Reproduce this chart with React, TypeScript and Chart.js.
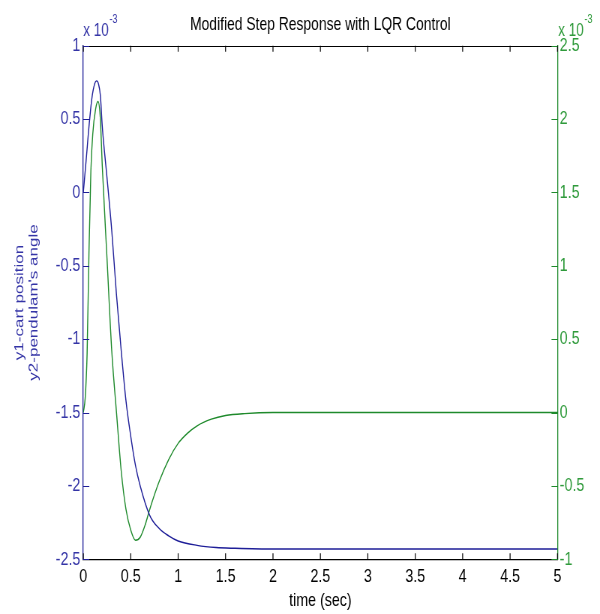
import { useEffect, useRef } from "react";
import { Chart, registerables } from "chart.js";

Chart.register(...registerables);

// ---- data (values in units of 1e-3) ----
const chartTitle = "Modified Step Response with LQR Control";
const xTitle = "time (sec)";
const yTitleLines = ["y1-cart position", "y2-pendulam's angle"];
const multiplierText = "x 10";
const multiplierExp = "-3";

const timeBlue = [0, 0.03, 0.06, 0.09, 0.12, 0.14, 0.16, 0.18, 0.2, 0.25, 0.3, 0.35, 0.4, 0.45, 0.5, 0.55, 0.6, 0.7, 0.8, 0.9, 1.0, 1.2, 1.4, 1.6, 2.0, 5.0];
const y1Cart = [0, 0.22, 0.45, 0.64, 0.74, 0.76, 0.74, 0.66, 0.45, 0.1, -0.26, -0.7, -1.08, -1.42, -1.66, -1.86, -2.0, -2.2, -2.29, -2.34, -2.375, -2.405, -2.42, -2.425, -2.43, -2.43];

const timeGreen = [0, 0.02, 0.04, 0.06, 0.08, 0.1, 0.13, 0.155, 0.18, 0.2, 0.25, 0.3, 0.35, 0.4, 0.45, 0.5, 0.55, 0.6, 0.65, 0.7, 0.8, 0.9, 1.0, 1.1, 1.2, 1.35, 1.5, 1.7, 2.0, 5.0];
const y2Angle = [0, 0.1, 0.4, 1.1, 1.65, 1.9, 2.07, 2.12, 2.0, 1.68, 1.05, 0.42, 0.0, -0.4, -0.66, -0.8, -0.87, -0.85, -0.77, -0.66, -0.47, -0.32, -0.21, -0.14, -0.09, -0.045, -0.02, -0.007, 0, 0];

const xRange = [0, 5];
const xStep = 0.5;
const yLeftRange = [-2.5, 1];
const yRightRange = [-1, 2.5];
const yStep = 0.5;

// ---- styles ----
// The figure is horizontally condensed (like the reference image): the chart is
// drawn on a wider canvas and squeezed with a CSS scaleX.
const SX = 0.75;
const CW = 800; // canvas width before squeeze (800 * 0.75 = 600)
const CH = 614;
const FAMILY = "'Liberation Sans', Arial, sans-serif";
const BLUE_LINE = "#1e1e98";
const BLUE_TEXT = "#3434a6";
const GREEN_LINE = "#1f8a2c";
const GREEN_TEXT = "#2f9a3b";
const TICK_V = 6; // vertical tick length (px)
const TICK_H = 6 / SX; // horizontal tick length in canvas px

const fmt = (v: any) => String(Number(v));

const decor = {
  id: "decor",
  afterDraw(chart: any) {
    const { ctx, chartArea: a, scales } = chart;
    const xs = scales.x, yl = scales.y, yr = scales.y2;
    ctx.save();
    ctx.lineWidth = 1.2;
    // top border
    ctx.strokeStyle = "#000";
    ctx.beginPath();
    ctx.moveTo(a.left, Math.round(a.top) + 0.5);
    ctx.lineTo(a.right, Math.round(a.top) + 0.5);
    ctx.stroke();
    // x ticks (bottom and top, inward)
    ctx.beginPath();
    xs.ticks.forEach((t: any) => {
      const px = xs.getPixelForValue(t.value);
      ctx.moveTo(px, a.bottom);
      ctx.lineTo(px, a.bottom - TICK_V);
      ctx.moveTo(px, a.top);
      ctx.lineTo(px, a.top + TICK_V);
    });
    ctx.stroke();
    ctx.lineWidth = 1;
    // left ticks
    ctx.strokeStyle = BLUE_LINE;
    ctx.beginPath();
    yl.ticks.forEach((t: any) => {
      const py = Math.round(yl.getPixelForValue(t.value)) + 0.5;
      ctx.moveTo(a.left, py);
      ctx.lineTo(a.left + TICK_H, py);
    });
    ctx.stroke();
    // right ticks
    ctx.strokeStyle = GREEN_LINE;
    ctx.beginPath();
    yr.ticks.forEach((t: any) => {
      const py = Math.round(yr.getPixelForValue(t.value)) + 0.5;
      ctx.moveTo(a.right, py);
      ctx.lineTo(a.right - TICK_H, py);
    });
    ctx.stroke();
    // multipliers
    const drawMult = (x0: number, color: string) => {
      ctx.fillStyle = color;
      ctx.textBaseline = "alphabetic";
      ctx.textAlign = "left";
      ctx.font = `18px ${FAMILY}`;
      ctx.fillText(multiplierText, x0, 36);
      const w = ctx.measureText(multiplierText).width;
      ctx.font = `12px ${FAMILY}`;
      ctx.fillText(multiplierExp, x0 + w + 1, 23);
    };
    drawMult(a.left, BLUE_TEXT);
    drawMult(a.right + 1, GREEN_TEXT);
    ctx.restore();
  },
};

export default function App() {
  const ref = useRef<HTMLCanvasElement | null>(null);
  useEffect(() => {
    document.body.style.margin = "0";
    if (!ref.current) return;
    const chart = new Chart(ref.current, {
      type: "line",
      data: {
        datasets: [
          {
            label: "y1",
            data: timeBlue.map((t, i) => ({ x: t, y: y1Cart[i] })),
            borderColor: BLUE_LINE,
            borderWidth: 1.4,
            pointRadius: 0,
            cubicInterpolationMode: "monotone",
            yAxisID: "y",
          },
          {
            label: "y2",
            data: timeGreen.map((t, i) => ({ x: t, y: y2Angle[i] })),
            borderColor: GREEN_LINE,
            borderWidth: 1.4,
            pointRadius: 0,
            cubicInterpolationMode: "monotone",
            yAxisID: "y2",
          },
        ],
      },
      options: {
        animation: false,
        responsive: false,
        devicePixelRatio: 1,
        layout: { padding: 0 },
        plugins: {
          legend: { display: false },
          tooltip: { enabled: false },
          title: {
            display: true,
            fullSize: false,
            text: chartTitle,
            color: "#000",
            font: { family: FAMILY, size: 18.5, weight: "normal", lineHeight: 1.2 },
            padding: { top: 14, bottom: 9.5 },
          },
        },
        scales: {
          x: {
            type: "linear",
            min: xRange[0],
            max: xRange[1],
            afterFit: (s: any) => { s.height = 54.7; },
            ticks: {
              stepSize: xStep,
              color: "#000",
              padding: 6,
              maxRotation: 0,
              callback: fmt,
              font: { family: FAMILY, size: 19 },
            },
            grid: { display: true, drawOnChartArea: false, drawTicks: false, color: "transparent" },
            border: { display: true, color: "#000", width: 1.2 },
            title: {
              display: true,
              text: xTitle,
              color: "#000",
              font: { family: FAMILY, size: 19, lineHeight: 1.2 },
              padding: { top: 0, bottom: 2 },
            },
          },
          y: {
            type: "linear",
            position: "left",
            min: yLeftRange[0],
            max: yLeftRange[1],
            afterFit: (s: any) => { s.width = 83.3 / SX; },
            ticks: {
              stepSize: yStep,
              color: BLUE_TEXT,
              padding: 4,
              callback: fmt,
              font: { family: FAMILY, size: 19 },
            },
            grid: { display: true, drawOnChartArea: false, drawTicks: false, color: "transparent" },
            border: { display: true, color: BLUE_LINE, width: 1.3 },
            title: {
              display: true,
              text: yTitleLines,
              color: BLUE_TEXT,
              font: { family: FAMILY, size: 17, lineHeight: 1.1 },
              padding: { top: 17, bottom: 0 },
            },
          },
          y2: {
            type: "linear",
            position: "right",
            min: yRightRange[0],
            max: yRightRange[1],
            afterFit: (s: any) => { s.width = (600 - 557.5) / SX; },
            ticks: {
              stepSize: yStep,
              color: GREEN_TEXT,
              padding: 3,
              callback: fmt,
              font: { family: FAMILY, size: 19 },
            },
            grid: { display: true, drawOnChartArea: false, drawTicks: false, color: "transparent" },
            border: { display: true, color: GREEN_LINE, width: 1.3 },
          },
        },
      },
      plugins: [decor],
    } as any);
    return () => chart.destroy();
  }, []);
  return (
    <div style={{ width: 600, height: CH, overflow: "hidden", background: "#fff" }}>
      <canvas
        ref={ref}
        width={CW}
        height={CH}
        style={{
          width: CW,
          height: CH,
          display: "block",
          transform: `scaleX(${SX})`,
          transformOrigin: "0 0",
        }}
      />
    </div>
  );
}
